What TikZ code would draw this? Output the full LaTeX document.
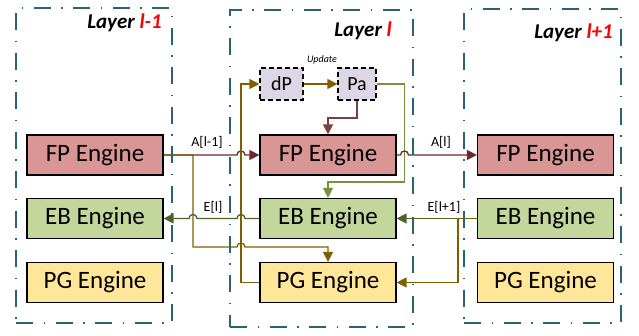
\documentclass[tikz,border=0pt]{standalone}
\usepackage{fontspec}
\setmainfont{Carlito}
\usetikzlibrary{arrows.meta,calc}
\definecolor{frameC}{HTML}{2A6470}
\definecolor{fpC}{HTML}{D99694}
\definecolor{ebC}{HTML}{C3D69B}
\definecolor{pgC}{HTML}{FFE699}
\definecolor{parC}{HTML}{DCD6E6}
\definecolor{goldC}{HTML}{7F6000}
\definecolor{redC}{HTML}{6B2A2A}
\definecolor{redtwoC}{HTML}{7F3F3F}
\definecolor{olvC}{HTML}{4F6228}
\definecolor{olvtwoC}{HTML}{76923C}
\definecolor{lblred}{HTML}{FF0000}
\begin{document}
\begin{tikzpicture}[x=1pt,y=-1pt,
  layerframe/.style={draw=frameC,line width=2.6pt,dash pattern=on 17pt off 10.5pt on 1.5pt off 10.5pt,inner sep=0pt},
  engine/.style={draw=black,line width=1.2pt,minimum width=136pt,minimum height=40pt,inner sep=0pt,font=\fontsize{25}{28}\selectfont},
  param/.style={draw=black,line width=1.2pt,dash pattern=on 5pt off 3pt,fill=parC,minimum height=32pt,inner sep=0pt,font=\fontsize{20}{24}\selectfont},
  conn/.style={line width=1.3pt},
  arr/.style={conn,-{Triangle[length=10pt,width=10pt]}},
  lbl/.style={font=\fontsize{14}{16}\selectfont,inner sep=0pt},
  title/.style={font=\fontsize{21}{24}\selectfont\bfseries\itshape,anchor=east,inner sep=0pt}]
\useasboundingbox (0,0) rectangle (639,335);

% titles
\node[title] (tL) at (162,23) {Layer \textcolor{lblred}{l-1}};
\node[title] (tM) at (392,31) {Layer \textcolor{lblred}{l}};
\node[title] (tR) at (613,33) {Layer \textcolor{lblred}{l+1}};

% engines
\node[engine,fill=fpC] (fpL) at (95,155) {FP Engine};
\node[engine,fill=ebC] (ebL) at (95,218.5) {EB Engine};
\node[engine,fill=pgC] (pgL) at (95,282.5) {PG Engine};
\node[engine,fill=fpC] (fpM) at (328,155) {FP Engine};
\node[engine,fill=ebC] (ebM) at (328,218.5) {EB Engine};
\node[engine,fill=pgC] (pgM) at (328,282.5) {PG Engine};
\node[engine,fill=fpC] (fpR) at (545.5,155) {FP Engine};
\node[engine,fill=ebC] (ebR) at (545.5,218.5) {EB Engine};
\node[engine,fill=pgC] (pgR) at (545.5,282.5) {PG Engine};

% parameters
\node[param,minimum width=43pt] (dP) at (281.5,84) {dP};
\node[param,minimum width=38pt] (Pa) at (357,84) {Pa};
\node[font=\fontsize{10}{12}\selectfont\itshape,inner sep=0pt] (upd) at (322,60) {Update};

% routing coordinates
\coordinate (vg) at (241,0);
\coordinate (vh) at (193,0);
\coordinate (vo) at (404.5,0);
\coordinate (vk) at (458,0);
\coordinate (hr) at (0,118);
\coordinate (ho) at (0,182);
\coordinate (hg) at (0,247);

% A[l-1]
\draw[arr,redC] (fpL.east) -- ($(fpL.east -| vg)+(-4,0)$) .. controls +(0,-5.3) and +(0,-5.3) .. ($(fpL.east -| vg)+(4,0)$) -- (fpM.west);
% A[l-1] to PG of layer l
\draw[arr,goldC] (fpL.east) -- (fpL.east -| vh) -- (vh |- hg) -- ($(vg |- hg)+(-4,0)$) .. controls +(0,-5.3) and +(0,-5.3) .. ($(vg |- hg)+(4,0)$) -| (pgM.north);
% PG -> dP
\draw[arr,goldC] (pgM.west) -- (pgM.west -| vg) |- (dP.west);
% dP -> Pa
\draw[arr,goldC] (dP.east) -- (Pa.west);
% Pa -> FP
\draw[arr,redtwoC] (Pa.south) |- (fpM.north |- hr) -- (fpM.north);
% Pa -> EB
\draw[arr,olvtwoC] (Pa.east) -| (vo |- ho) -| (ebM.north);
% A[l]
\draw[arr,redC] (fpM.east) -- ($(fpM.east -| vo)+(-4,0)$) .. controls +(0,-5.3) and +(0,-5.3) .. ($(fpM.east -| vo)+(4,0)$) -- (fpR.west);
% E[l]
\draw[arr,olvC] (ebM.west) -- ($(ebM.west -| vg)+(4,0)$) .. controls +(0,-5.3) and +(0,-5.3) .. ($(ebM.west -| vg)+(-4,0)$) -- ($(ebM.west -| vh)+(4,0)$) .. controls +(0,-5.3) and +(0,-5.3) .. ($(ebM.west -| vh)+(-4,0)$) -- (ebL.east);
% E[l+1]
\draw[arr,olvC] (ebR.west) -- (ebM.east);
\draw[arr,goldC] (ebR.west) -- (ebR.west -| vk) |- (pgM.east);

% labels
\node[lbl] (lA1) at (207,142) {A[l-1]};
\node[lbl] (lA) at (441,142) {A[l]};
\node[lbl] (lE) at (213,207) {E[l]};
\node[lbl] (lE1) at (444,207) {E[l+1]};

% layer frames
\node[layerframe,minimum width=156pt,minimum height=315pt] (layL) at (94,165.5) {};
\node[layerframe,minimum width=183pt,minimum height=317pt] (layM) at (321.5,168.5) {};
\node[layerframe,minimum width=157pt,minimum height=314pt] (layR) at (542.5,166) {};
\end{tikzpicture}
\end{document}
